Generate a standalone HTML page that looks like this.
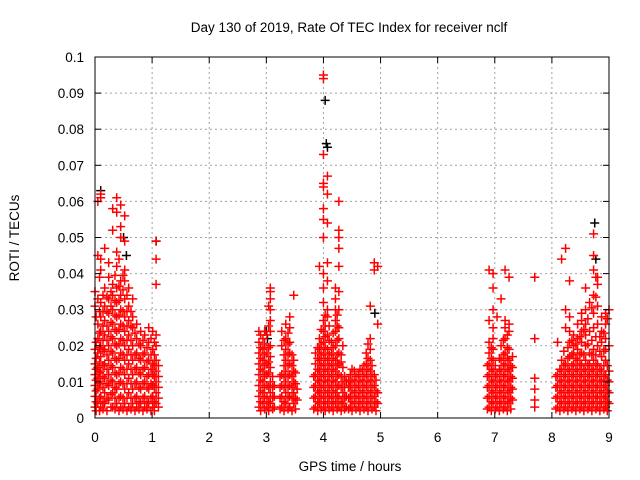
<!DOCTYPE html>
<html><head><meta charset="utf-8"><style>
html,body{margin:0;padding:0;background:#fff;}
svg{display:block;font-family:"Liberation Sans",sans-serif;}
</style></head><body>
<svg id="chart" width="640" height="480" viewBox="0 0 640 480" xmlns="http://www.w3.org/2000/svg">
<rect x="0" y="0" width="640" height="480" fill="#fff"/>
<text x="349" y="32" font-size="13.5" text-anchor="middle">Day 130 of 2019, Rate Of TEC Index for receiver nclf</text>
<text x="19" y="238" font-size="13.5" text-anchor="middle" transform="rotate(-90 19 238)">ROTI / TECUs</text>
<text x="350" y="471" font-size="13.5" text-anchor="middle">GPS time / hours</text>
<g id="grid"></g>
<g id="marks"></g>
<g id="axes"></g>
</svg>
<script>
const xTicks=[0,1,2,3,4,5,6,7,8,9];
const yTicks=[0,0.01,0.02,0.03,0.04,0.05,0.06,0.07,0.08,0.09,0.1];
const yTickLabels=["0","0.01","0.02","0.03","0.04","0.05","0.06","0.07","0.08","0.09","0.1"];
// red series: columns of [time(hours), [ROTI values]]
const redColumns=[
[0.00,[.003,.006,.009,.012,.015,.019,.031,.035]],
[0.02,[.002,.0045,.0075,.0105,.0135,.0165,.021,.028]],
[0.05,[.004,.008,.011,.014,.018,.022,.026,.033,.045,.06]],
[0.08,[.002,.0055,.0095,.0125,.0155,.0195,.0235,.0295,.039]],
[0.10,[.003,.006,.01,.013,.017,.02,.024,.028,.032,.041,.044,.061,.062]],
[0.14,[.0025,.0045,.0085,.0115,.0145,.0185,.0215,.0255,.0295,.034]],
[0.17,[.004,.007,.011,.015,.019,.023,.027,.031,.036,.047]],
[0.21,[.002,.0055,.0095,.0135,.0175,.0215,.0255,.0295,.0335]],
[0.24,[.005,.009,.012,.016,.02,.024,.029,.033,.039,.043]],
[0.28,[.003,.0065,.0105,.0145,.0185,.0225,.0265,.031,.035]],
[0.31,[.003,.007,.01,.014,.018,.022,.026,.03,.034,.037,.052,.058]],
[0.35,[.0025,.0055,.0085,.0125,.0165,.0205,.0245,.0285,.0325,.0395]],
[0.38,[.004,.008,.012,.016,.02,.024,.028,.032,.036,.042,.046,.057,.061]],
[0.42,[.002,.0055,.0095,.0125,.0165,.0205,.0245,.0285,.0325,.0365,.044]],
[0.45,[.003,.006,.01,.014,.018,.022,.026,.03,.034,.038,.05,.053,.059]],
[0.49,[.0025,.0055,.0095,.0135,.0175,.0215,.0255,.0295,.0355,.0395]],
[0.52,[.004,.008,.012,.016,.02,.024,.028,.033,.038,.041,.049,.056]],
[0.56,[.002,.0055,.0095,.0135,.0175,.0215,.0255,.0295,.034]],
[0.59,[.003,.007,.011,.015,.019,.023,.027,.031,.036]],
[0.63,[.0025,.0055,.0095,.0135,.0175,.0215,.0255,.0295]],
[0.66,[.004,.008,.012,.016,.02,.025,.028,.033]],
[0.70,[.002,.0055,.0095,.0135,.0175,.0235]],
[0.73,[.003,.006,.01,.014,.018,.022,.026]],
[0.77,[.0025,.0045,.0085,.0125,.0165,.0205]],
[0.80,[.004,.008,.012,.016,.02,.024]],
[0.84,[.002,.0055,.0095,.0135,.0175,.0215]],
[0.87,[.003,.006,.01,.014,.018,.023]],
[0.91,[.0025,.0045,.0085,.0115,.0155,.0195]],
[0.94,[.004,.008,.012,.016,.021,.025]],
[0.98,[.002,.0055,.0095,.0135,.0175,.022]],
[1.01,[.003,.006,.009,.012,.015,.019,.024]],
[1.04,[.002,.0045,.0085,.0115,.0145,.0175,.021]],
[1.07,[.004,.007,.01,.013,.016,.02,.023,.037,.044,.049]],
[1.11,[.003,.0055,.0085,.0115,.0145]],
[2.87,[.003,.006,.009,.012,.015,.018,.021,.024]],
[2.90,[.002,.0045,.0075,.0105,.0135,.0165,.0195,.023]],
[2.94,[.004,.007,.01,.013,.016,.019,.022]],
[2.97,[.0025,.0055,.0085,.0115,.0145,.0175,.0205,.024]],
[3.01,[.003,.006,.009,.012,.015,.018,.023]],
[3.04,[.002,.0045,.0085,.0125,.0155,.0195,.0255,.031]],
[3.07,[.004,.007,.01,.014,.017,.02,.024,.027,.03,.033,.035,.036]],
[3.11,[.0025,.0055,.0085,.0115]],
[3.14,[.003,.006,.009]],
[3.24,[.0025,.0055,.0085,.0115]],
[3.27,[.003,.006,.009,.012,.02,.024]],
[3.31,[.002,.0045,.0085,.0115,.0145,.0175,.0215]],
[3.34,[.004,.007,.01,.013,.016,.019,.022,.026]],
[3.38,[.0025,.0055,.0085,.0115,.0145,.0175,.0205,.0235]],
[3.41,[.003,.006,.009,.012,.015,.018,.021,.025,.028]],
[3.45,[.002,.0055,.0085,.0115,.0145,.0175]],
[3.48,[.004,.007,.01,.013,.016,.034]],
[3.51,[.0025,.0055,.0095,.0125]],
[3.54,[.005,.008]],
[3.83,[.0025,.0055,.0085,.0115]],
[3.86,[.003,.006,.009,.012,.015,.018]],
[3.90,[.002,.0045,.0075,.0105,.0135,.0165,.0195]],
[3.93,[.004,.007,.01,.013,.016,.019,.022,.042]],
[3.96,[.0025,.0055,.0085,.0115,.0145,.0175,.0205,.0245]],
[4.00,[.003,.006,.009,.012,.015,.018,.021,.024,.027,.032,.036,.04,.05,.055,.058,.064,.065,.073,.094,.095]],
[4.03,[.002,.0045,.0075,.0105,.0135,.0165,.0195,.0225,.0255,.0285]],
[4.07,[.004,.007,.01,.013,.016,.019,.023,.028,.03,.038,.043,.054,.062,.067]],
[4.10,[.0025,.0055,.0085,.0115,.0145,.0175,.0215,.0255]],
[4.14,[.003,.006,.009,.012,.015,.018,.021]],
[4.17,[.002,.0045,.0075,.0105,.0135,.0165,.0195,.0235]],
[4.21,[.004,.007,.01,.013,.016,.02,.024,.027,.03,.033,.036]],
[4.24,[.0025,.0055,.0085,.0115,.0145,.0175,.0215,.0255,.0285]],
[4.27,[.003,.006,.009,.012,.015,.018,.022,.025,.03,.035,.042,.047,.05,.052,.06]],
[4.31,[.002,.0045,.0085,.0115,.0155,.0175]],
[4.34,[.004,.007,.01,.014,.02]],
[4.37,[.0025,.0055,.0085,.0115]],
[4.40,[.003,.006,.01]],
[4.44,[.0025,.0055,.0085,.0105]],
[4.47,[.003,.006,.009,.012]],
[4.50,[.002,.0045,.0075,.0105,.0135]],
[4.54,[.004,.007,.01,.013]],
[4.57,[.0025,.0055,.0085,.0115]],
[4.61,[.003,.006,.009,.012]],
[4.64,[.002,.0045,.0075,.0105,.0135]],
[4.68,[.004,.007,.01,.013]],
[4.71,[.0025,.0055,.0085,.0115,.0145]],
[4.75,[.003,.006,.009,.012,.015,.018]],
[4.78,[.002,.0045,.0075,.0105,.0135,.0165,.0205]],
[4.82,[.004,.007,.01,.013,.016,.019,.022,.031]],
[4.85,[.0025,.0055,.0085,.0115,.0145]],
[4.89,[.003,.006,.009,.012,.041,.043]],
[4.92,[.002,.0045,.0075,.0105]],
[4.95,[.004,.007,.026,.042]],
[6.87,[.0025,.0055,.0085,.0115,.0145]],
[6.90,[.003,.006,.009,.012,.015,.018,.021,.027,.041]],
[6.94,[.002,.0045,.0075,.0105,.0135,.0165,.0195]],
[6.97,[.004,.007,.01,.013,.016,.019,.022,.025,.03,.036,.04]],
[7.01,[.0025,.0055,.0085,.0115,.0145]],
[7.04,[.003,.006,.009,.012,.028]],
[7.08,[.002,.0045,.0075,.0105,.0135,.0165]],
[7.11,[.004,.007,.01,.013,.016,.02,.033]],
[7.15,[.0025,.0055,.0085,.0115,.0145,.0175,.0215]],
[7.18,[.003,.006,.009,.012,.015,.018,.022,.025,.027,.041]],
[7.22,[.002,.0045,.0075,.0105,.0135,.0165,.0195,.023]],
[7.25,[.004,.007,.01,.013,.016,.019,.024,.026,.039]],
[7.28,[.0025,.0055,.0085,.0115,.0145]],
[7.31,[.005,.008,.011,.014,.017]],
[7.70,[.003,.005,.008,.011,.022,.039]],
[8.07,[.0025,.0055,.0085,.0115]],
[8.10,[.003,.006,.009,.012,.021]],
[8.14,[.002,.0045,.0075,.0105,.0135]],
[8.17,[.004,.007,.01,.013,.016,.044]],
[8.21,[.0025,.0055,.0085,.0115,.0145,.0185]],
[8.24,[.003,.006,.009,.012,.015,.025,.03,.047]],
[8.28,[.002,.0045,.0075,.0105,.0135,.0165,.0195]],
[8.31,[.004,.007,.01,.013,.017,.021,.024,.028,.038]],
[8.35,[.0025,.0055,.0085,.0115,.0145,.0175,.0215]],
[8.38,[.003,.006,.009,.012,.015,.018,.02,.023]],
[8.42,[.002,.0045,.0075,.0105,.0135,.0165,.0205]],
[8.45,[.004,.007,.01,.013,.016,.019,.022,.026]],
[8.49,[.0025,.0055,.0085,.0115,.0145,.0175,.0225]],
[8.52,[.003,.006,.009,.012,.015,.018,.021,.024,.027,.029]],
[8.56,[.002,.0045,.0075,.0105,.0135,.0175,.0245]],
[8.59,[.004,.007,.01,.013,.016,.02,.023,.026,.03,.036]],
[8.63,[.0025,.0055,.0085,.0115,.0145,.0205,.0275]],
[8.66,[.003,.006,.009,.012,.015,.018,.024,.032]],
[8.70,[.002,.0045,.0075,.0105,.0135,.0175,.0215,.0305]],
[8.73,[.004,.007,.01,.013,.016,.019,.025,.029,.034,.041,.045,.051]],
[8.77,[.0025,.0055,.0085,.0115,.0145,.0175,.0225,.0335,.039]],
[8.80,[.003,.006,.009,.012,.015,.02,.026,.031,.037,.039]],
[8.84,[.002,.0045,.0075,.0105,.0135,.0185,.0225]],
[8.87,[.004,.007,.01,.013,.017,.021,.024,.028]],
[8.91,[.0025,.0055,.0085,.0115,.0145,.0185,.0235]],
[8.94,[.003,.006,.009,.012,.016,.019,.022,.026,.029]],
[8.97,[.002,.0045,.0075,.0105,.0145,.0275]],
[9.00,[.004,.007,.01,.013,.02,.03]]
];
// black series
const blackTimes=[4.03,4.05,4.07,1.07,8.75,0.10,0.50,8.77,3.00,4.90,3.02,0.55];
const blackValues=[.088,.076,.075,.049,.054,.063,.050,.044,.024,.029,.022,.045];

const X0=95,X1=609,Y0=418,Y1=57;
const xS=t=>X0+(t-0)/(9-0)*(X1-X0);
const yS=v=>Y0-(v-0)/(0.1-0)*(Y0-Y1);
const NS="http://www.w3.org/2000/svg";
function mk(tag,attrs,parent){const e=document.createElementNS(NS,tag);for(const k in attrs)e.setAttribute(k,attrs[k]);parent.appendChild(e);return e;}
const grid=document.getElementById('grid'),marks=document.getElementById('marks'),axes=document.getElementById('axes');
xTicks.forEach((t,i)=>{
  const x=xS(t);
  if(i>0&&i<xTicks.length-1){const g=mk('line',{x1:x,x2:x,y1:Y1,y2:Y0,stroke:'#a0a0a0','stroke-dasharray':'2,3','stroke-width':1},grid);
  
  }
  mk('line',{x1:x,x2:x,y1:Y0,y2:Y0-6,stroke:'#000'},axes);
  mk('line',{x1:x,x2:x,y1:Y1,y2:Y1+6,stroke:'#000'},axes);
  const tx=mk('text',{x:x,y:Y0+24,'font-size':13.5,'text-anchor':'middle'},axes);
  tx.textContent=String(t);
  
  
});
yTicks.forEach((v,i)=>{
  const y=yS(v);
  if(i>0&&i<yTicks.length-1){const g=mk('line',{x1:X0,x2:X1,y1:y,y2:y,stroke:'#a0a0a0','stroke-dasharray':'2,3','stroke-width':1},grid);
  
  }
  mk('line',{x1:X0,x2:X0+6,y1:y,y2:y,stroke:'#000'},axes);
  mk('line',{x1:X1,x2:X1-6,y1:y,y2:y,stroke:'#000'},axes);
  const tx=mk('text',{x:X0-11,y:y+5,'font-size':13.5,'text-anchor':'end'},axes);
  tx.textContent=yTickLabels[i];
  
  
});
const fr=mk('rect',{x:X0,y:Y1,width:X1-X0,height:Y0-Y1,fill:'none',stroke:'#000','stroke-width':1},axes);


function plus(t,v,color){
  const x=xS(t),y=yS(v);
  const p=mk('path',{d:`M${x-4.5},${y}H${x+4.5}M${x},${y-4.5}V${y+4.5}`,stroke:color,'stroke-width':1.5,fill:'none'},marks);
  
  
}
blackTimes.forEach((t,i)=>plus(t,blackValues[i],'#000'));
redColumns.forEach(c=>c[1].forEach(v=>plus(c[0],v,'#f00')));
</script>
</body></html>
